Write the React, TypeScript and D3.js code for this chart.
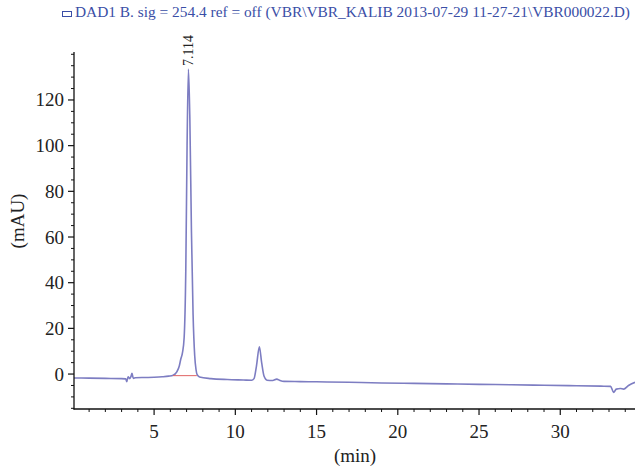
import React from "react";
import * as d3 from "d3";

const titleText = "DAD1 B. sig = 254.4 ref = off (VBR\\VBR_KALIB 2013-07-29 11-27-21\\VBR000022.D)";
const peakLabel = "7.114";
const peakTime = 7.114;
const peakValue = 133.5;

const xMajorTicks = [5, 10, 15, 20, 25, 30];
const yMajorTicks = [0, 20, 40, 60, 80, 100, 120];

const times = [
  0.07, 1.0, 2.0, 3.0, 3.25, 3.32, 3.4, 3.5, 3.58, 3.64, 3.72, 3.85, 4.5, 5.0, 5.5, 5.9, 6.17, 6.4, 6.55, 6.64,
  6.75, 6.85, 6.95, 7.03, 7.114, 7.2, 7.3, 7.4, 7.5, 7.58, 7.65, 7.8, 8.5, 9.5, 10.5, 11.0, 11.15, 11.3, 11.48,
  11.62, 11.77, 11.95, 12.3, 12.55, 12.75, 13.0, 14.0, 15.0, 17.0, 19.0, 21.0, 23.0, 25.0, 27.0, 29.0, 31.0,
  32.5, 33.1, 33.28, 33.45, 33.7, 33.9, 34.2, 34.6,
];
const values = [
  -1.7, -1.8, -1.9, -2.0, -2.1, -3.3, -1.2, -2.0, -1.0, 0.3, -1.9, -1.6, -1.5, -1.4, -1.2, -0.9, -0.5, 1.0, 3.5, 6.5,
  9.5, 16, 45, 100, peakValue, 112, 62, 26, 8, 2.0, -0.3, -1.3, -2.0, -2.4, -2.6, -2.7, -2.0, 3.5, 11.9,
  5.0, -1.0, -2.7, -2.8, -2.2, -2.8, -3.2, -3.3, -3.4, -3.6, -3.9, -4.1, -4.3, -4.5, -4.7, -4.9, -5.1,
  -5.3, -5.4, -8.0, -6.6, -6.3, -6.6, -5.0, -3.6,
];

const baselineStart = 6.17;
const baselineEnd = 7.63;
const baselineValue = -0.7;

export default function App() {
  const width = 635;
  const height = 470;
  const x = d3.scaleLinear().domain([0.07, 34.6]).range([74, 635]);
  const y = d3.scaleLinear().domain([-15.3, 141]).range([409, 52]);

  const xMinor = d3.range(1, 35, 1).filter((t) => !xMajorTicks.includes(t));
  const yMinor = d3.range(-15, 141, 5).filter((t) => !yMajorTicks.includes(t));

  const pts: [number, number][] = times.map((t, i) => [t, values[i]]);
  const line = d3
    .line<[number, number]>()
    .x((d) => x(d[0]))
    .y((d) => y(d[1]))
    .curve(d3.curveMonotoneX);

  const font = "'Liberation Serif', 'DejaVu Serif', serif";
  const tickFont = 19;

  return (
    <svg width={width} height={height} style={{ position: "absolute", left: 0, top: 0, background: "#fff" }}>
      <rect x={0} y={0} width={width} height={height} fill="#fff" />
      {/* title */}
      <rect x={62.5} y={11.5} width={9} height={5} fill="none" stroke="#3a4ea6" strokeWidth={1} />
      <text
        x={75}
        y={17}
        fontFamily={font}
        fontSize={14.5}
        fill="#3a4ea6"
        textLength={555}
        lengthAdjust="spacingAndGlyphs"
      >
        {titleText}
      </text>

      {/* data line */}
      <path d={line(pts) || ""} fill="none" stroke="#7d7dc2" strokeWidth={1.6} strokeLinejoin="round" />
      <line
        x1={x(baselineStart)}
        x2={x(baselineEnd)}
        y1={y(baselineValue)}
        y2={y(baselineValue)}
        stroke="#e06464"
        strokeWidth={1}
      />

      {/* peak label */}
      <text
        transform={`translate(${x(peakTime) + 5},66) rotate(-90)`}
        fontFamily={font}
        fontSize={14}
        fill="#222"
      >
        {peakLabel}
      </text>

      {/* axes */}
      <line x1={74} x2={74} y1={52} y2={409.5} stroke="#111" strokeWidth={1.3} />
      <line x1={73.5} x2={635} y1={409} y2={409} stroke="#111" strokeWidth={1.3} />

      {yMajorTicks.map((v) => (
        <g key={"ym" + v}>
          <line x1={68} x2={74} y1={y(v)} y2={y(v)} stroke="#111" strokeWidth={1.2} />
          <text
            x={64}
            y={y(v) + 6.5}
            textAnchor="end"
            fontFamily={font}
            fontSize={tickFont}
            fill="#222"
          >
            {v}
          </text>
        </g>
      ))}
      {yMinor.map((v) => (
        <line key={"yn" + v} x1={71} x2={74} y1={y(v)} y2={y(v)} stroke="#111" strokeWidth={1} />
      ))}

      {xMajorTicks.map((t) => (
        <g key={"xm" + t}>
          <line x1={x(t)} x2={x(t)} y1={409} y2={415} stroke="#111" strokeWidth={1.2} />
          <text x={x(t)} y={438} textAnchor="middle" fontFamily={font} fontSize={tickFont} fill="#222">
            {t}
          </text>
        </g>
      ))}
      {xMinor.map((t) => (
        <line key={"xn" + t} x1={x(t)} x2={x(t)} y1={409} y2={412} stroke="#111" strokeWidth={1} />
      ))}

      {/* axis titles */}
      <text x={355} y={462} textAnchor="middle" fontFamily={font} fontSize={tickFont} fill="#222">
        (min)
      </text>
      <text
        transform={`translate(24,221) rotate(-90)`}
        textAnchor="middle"
        fontFamily={font}
        fontSize={tickFont}
        fill="#222"
      >
        (mAU)
      </text>
    </svg>
  );
}
